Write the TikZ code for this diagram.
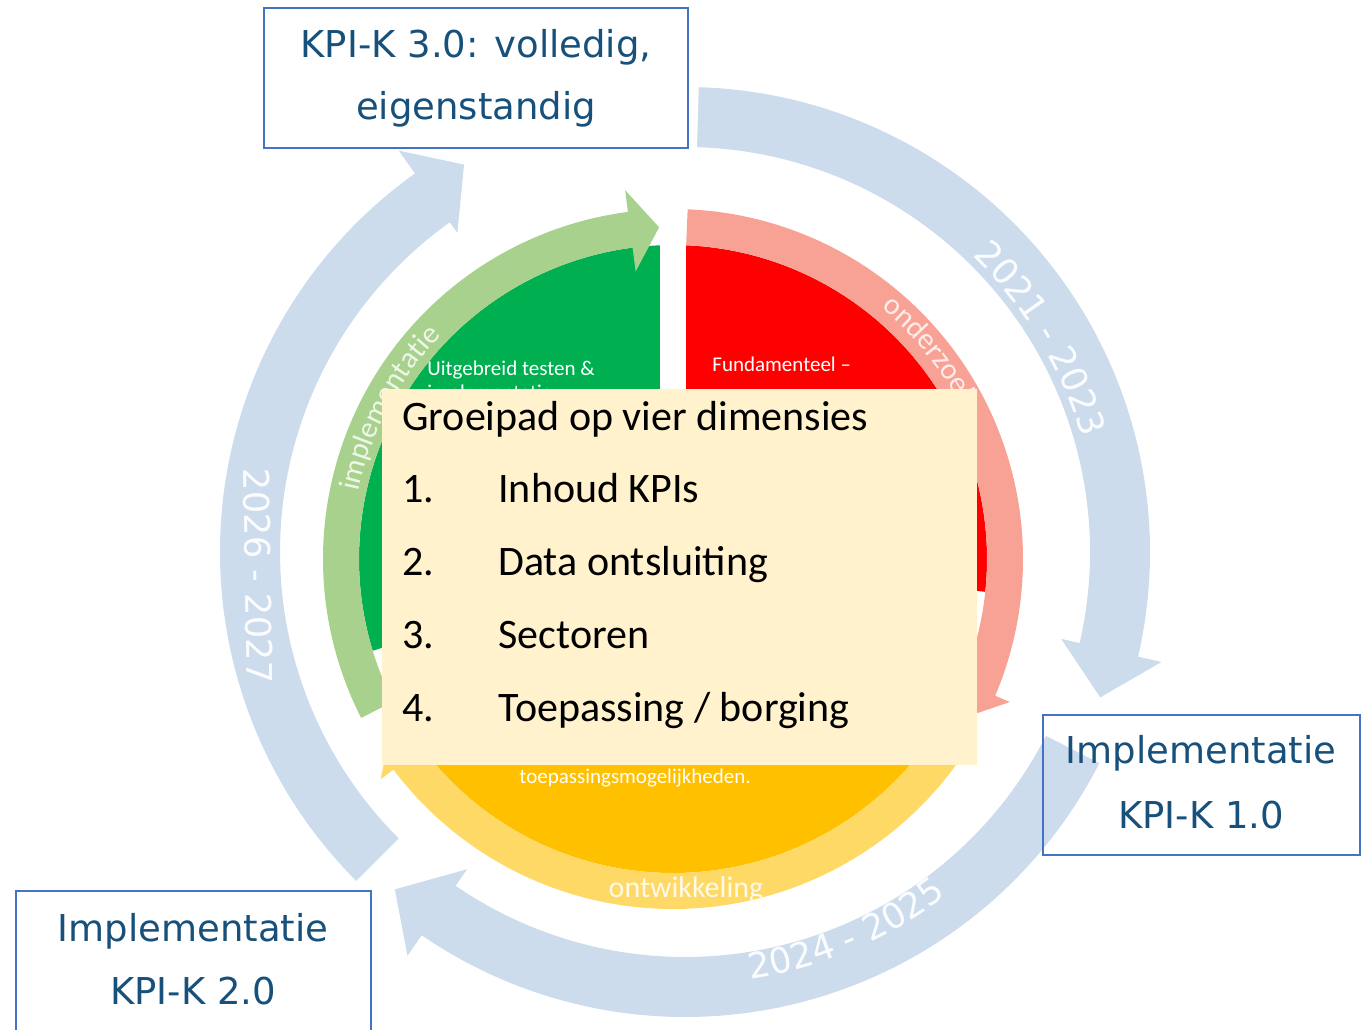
\documentclass[tikz,border=0pt]{standalone}
\usepackage{fontspec}
\setmainfont{DejaVu Sans}
\newfontfamily\calfont{Carlito}
\usetikzlibrary{decorations.text}
\definecolor{blueband}{HTML}{CCDCED}
\definecolor{boxline}{HTML}{4472C4}
\definecolor{boxtext}{HTML}{17507A}
\definecolor{gdark}{HTML}{00B050}
\definecolor{glight}{HTML}{A9D18E}
\definecolor{rdark}{HTML}{FF0000}
\definecolor{rlight}{HTML}{F8A195}
\definecolor{ydark}{HTML}{FFC000}
\definecolor{ylight}{HTML}{FFD966}
\definecolor{beige}{HTML}{FFF2CC}
% #1 colour, #2 tail angle, #3 head base angle, #4 tip angle,
% #5 inner r, #6 outer r, #7 inner barb r, #8 outer barb r, #9 tip r
\newcommand{\arcarrow}[9]{%
  \fill[#1] (#2:#6) arc[start angle=#2, end angle=#3, radius=#6]
    -- (#3:#8) -- (#4:#9) -- (#3:#7) -- (#3:#5)
    arc[start angle=#3, end angle=#2, radius=#5] -- cycle;}
\newcommand{\yearfont}{\fontsize{17.7}{20}\selectfont}
\newcommand{\bandfont}{\calfont\fontsize{15}{18}\selectfont}
\tikzset{
  boxtxt/.style={inner sep=0pt, text=boxtext, font=\fontsize{18.5}{22}\selectfont},
  itemtxt/.style={inner sep=0pt, anchor=base west, text=black, font=\calfont\fontsize{21}{25}\selectfont},
  smalltxt/.style={inner sep=0pt, anchor=base west, text=white, font=\calfont\fontsize{10.5}{12.6}\selectfont},
  yeartxt/.style={inner sep=0pt, text=white!92!blueband, font=\yearfont},
  kbox/.style={draw=boxline, line width=1pt}
}
\begin{document}
\begin{tikzpicture}[x=0.5pt,y=0.5pt]
\useasboundingbox (0,0) rectangle (1371,1029);
% ---------- outer blue cycle ----------
\begin{scope}[shift={(685,477)}]
  \arcarrow{blueband}{88.3}{-13}{-19.3}{405}{465}{386}{489}{440}
  \arcarrow{blueband}{-27}{-124.5}{-130.7}{405}{465}{385}{490}{445}
  \arcarrow{blueband}{225}{125.5}{119.7}{405}{465}{392}{493}{446}
  \path[decorate, decoration={text along path, text align=center,
     text={|\color{white!92!blueband}\yearfont|2021 - 2023}}]
     (62:413) arc[start angle=62, end angle=0, radius=413];
  \path[decorate, decoration={text along path, text align=center,
     text={|\color{white!92!blueband}\yearfont|2024 - 2025}}]
     (-100:432) arc[start angle=-100, end angle=-34, radius=432];
\end{scope}
\node[yeartxt, rotate=-89] (y3) at (258,453) {2026 - 2027};
% ---------- inner three-part cycle ----------
\begin{scope}[shift={(673,470)}]
  \fill[gdark] (-13,0) -- (92.4:314) arc[start angle=92.4, end angle=197, radius=314] -- cycle;
  \fill[rdark] (13,0) -- (-6:314) arc[start angle=-6, end angle=87.6, radius=314] -- cycle;
  \fill[ydark] (0,-12) -- (-147:314) arc[start angle=-147, end angle=-33, radius=314] -- cycle;
  \arcarrow{glight}{207}{97.4}{92.4}{314}{350}{290}{372}{332}
  \arcarrow{rlight}{87.6}{-23}{-28.5}{314}{350}{292}{366}{332}
  \arcarrow{ylight}{-33}{-143}{-148.5}{314}{350}{292}{366}{332}
  \path[decorate, decoration={text along path, text align=center,
     text={|\color{white!80!rlight}\bandfont|onderzoek}}]
     (62:326) arc[start angle=62, end angle=16, radius=326];
  \path[decorate, decoration={text along path, text align=center,
     text={|\color{white!80!glight}\bandfont|implementatie}}]
     (186:322) arc[start angle=186, end angle=118, radius=322];
\end{scope}
\node[inner sep=0pt, anchor=base, text=white!85!ylight, font=\bandfont] (ow) at (686,132) {ontwikkeling};
\node[smalltxt] (ut1) at (427,653) {Uitgebreid testen \&};
\node[smalltxt] (ut2) at (427,629) {implementatie};
\node[smalltxt] (fu1) at (712,657) {Fundamenteel –};
\node[smalltxt] (tm1) at (519,245) {toepassingsmogelijkheden.};
% ---------- central panel ----------
\fill[beige] (382,640) rectangle (977,264);
\node[itemtxt] (title) at (402,598) {Groeipad op vier dimensies};
\node[itemtxt] (n1) at (402,526) {1.};
\node[itemtxt] (i1) at (498,526) {Inhoud KPIs};
\node[itemtxt] (n2) at (402,453) {2.};
\node[itemtxt] (i2) at (498,453) {Data ontsluiting};
\node[itemtxt] (n3) at (402,380) {3.};
\node[itemtxt] (i3) at (498,380) {Sectoren};
\node[itemtxt] (n4) at (402,307) {4.};
\node[itemtxt] (i4) at (498,307) {Toepassing / borging};
% ---------- milestone boxes ----------
\draw[kbox] (264,1021) rectangle (688,881);
\node[boxtxt, anchor=base] (k3a) at (476,971) {KPI-K 3.0: volledig,};
\node[boxtxt, anchor=base] (k3b) at (476,909) {eigenstandig};
\draw[kbox] (1043,314) rectangle (1360,174);
\node[boxtxt, anchor=base] (k1a) at (1201,265) {Implementatie};
\node[boxtxt, anchor=base] (k1b) at (1201,200) {KPI-K 1.0};
\draw[kbox] (16,138) rectangle (371,-4);
\node[boxtxt, anchor=base] (k2a) at (193,88) {Implementatie};
\node[boxtxt, anchor=base] (k2b) at (193,25) {KPI-K 2.0};
\end{tikzpicture}
\end{document}
